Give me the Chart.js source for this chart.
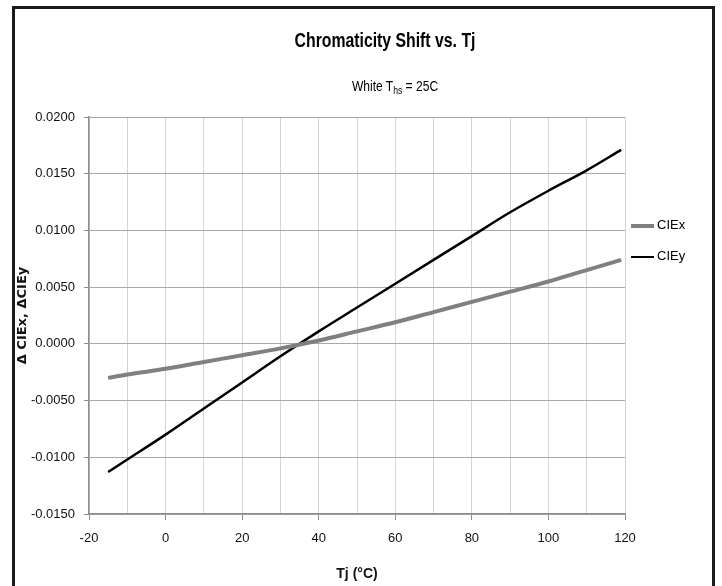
<!DOCTYPE html>
<html>
<head>
<meta charset="utf-8">
<script src="https://cdn.jsdelivr.net/npm/chart.js@4.4.0/dist/chart.umd.min.js"></script>
<style>
  body { margin: 0; background: #fff; }
  #wrap { position: relative; width: 722px; height: 586px; overflow: hidden; }
  #frame { position: absolute; left: 12px; top: 6px; width: 697px; height: 600px; border: 3px solid #1a1a1a; }
  canvas { position: absolute; left: 0; top: 0; }
  .txt { position: absolute; white-space: nowrap; color: #000; font-family: 'Liberation Sans', Arial, sans-serif; }
  #title { left: 385px; top: 29px; transform: translateX(-50%) scaleX(0.79); font-size: 20px; font-weight: bold; }
  #subtitle { left: 395px; top: 78px; transform: translateX(-50%) scaleX(0.86); font-size: 14px; }
  #subtitle sub { font-size: 10px; vertical-align: -3px; }
  .leg { position: absolute; left: 631px; font-size: 13px; }
  .leg span { display: inline-block; width: 23px; vertical-align: middle; margin-right: 3px; }
</style>
</head>
<body>
<div id="wrap">
  <div id="frame"></div>
  <canvas id="chart" width="722" height="586"></canvas>
  <div id="title" class="txt">Chromaticity Shift vs. Tj</div>
  <div id="subtitle" class="txt">White T<sub>hs</sub> = 25C</div>
  <div id="legend"></div>
</div>
<script>
// junction temperature (°C)
const tjValues = [-15, -10, 0, 10, 20, 30, 40, 50, 60, 70, 80, 90, 100, 110, 119];
// chromaticity shift
const cieX = [-0.0030, -0.0027, -0.0022, -0.0016, -0.0010, -0.0004, 0.0003, 0.0011, 0.0019, 0.0028, 0.0037, 0.0046, 0.0055, 0.0065, 0.0074];
const cieY = [-0.0113, -0.0102, -0.0080, -0.0057, -0.0034, -0.0011, 0.0011, 0.0032, 0.0053, 0.0074, 0.0095, 0.0116, 0.0135, 0.0153, 0.0171];
const seriesNames = ['CIEx', 'CIEy'];
const seriesColors = ['#808080', '#000000'];
const seriesWidths = [4, 2.5];

const xTicks = [-20, 0, 20, 40, 60, 80, 100, 120];

document.addEventListener('DOMContentLoaded', function() {
    Chart.defaults.font.family = "'Liberation Sans', Arial, sans-serif";
    Chart.defaults.color = '#111';

    const ctx = document.getElementById('chart');
    const allSeries = [cieX, cieY];

    new Chart(ctx, {
        type: 'scatter',
        data: {
            datasets: allSeries.map((vals, i) => ({
                label: seriesNames[i],
                data: tjValues.map((t, k) => ({ x: t, y: vals[k] })),
                showLine: true,
                borderColor: seriesColors[i],
                borderWidth: seriesWidths[i],
                pointRadius: 0,
                cubicInterpolationMode: 'monotone',
                fill: false
            }))
        },
        options: {
            responsive: false,
            animation: false,
            layout: { padding: { left: 12, right: 97, top: 117, bottom: 0 } },
            plugins: {
                legend: { display: false },
                tooltip: { enabled: false }
            },
            scales: {
                x: {
                    type: 'linear',
                    min: -20,
                    max: 120,
                    ticks: {
                        stepSize: 10,
                        autoSkip: false,
                        maxRotation: 0,
                        padding: 11,
                        font: { size: 13 },
                        callback: v => xTicks.includes(v) ? String(v) : ''
                    },
                    grid: {
                        color: '#d4d4d4',
                        tickLength: 6,
                        tickColor: c => (c.tick && xTicks.includes(c.tick.value)) ? '#8c8c8c' : 'rgba(0,0,0,0)'
                    },
                    border: { color: '#8c8c8c', width: 1.5 },
                    title: {
                        display: true,
                        text: 'Tj (°C)',
                        font: { size: 14, weight: 'bold' },
                        padding: { top: 4, bottom: 3 }
                    },
                    afterFit: s => { s.height = 72; }
                },
                y: {
                    min: -0.015,
                    max: 0.02,
                    ticks: {
                        stepSize: 0.005,
                        padding: 9,
                        font: { size: 13 },
                        callback: v => (Math.abs(v) < 1e-9 ? 0 : v).toFixed(4)
                    },
                    grid: { color: '#a8a8a8', tickLength: 5, tickColor: '#8c8c8c' },
                    border: { color: '#8c8c8c', width: 1.5 },
                    title: {
                        display: true,
                        text: 'Δ CIEx, ΔCIEy',
                        font: { family: "'DejaVu Sans', sans-serif", size: 13, weight: 'bold' },
                        padding: { top: 3, bottom: 4 }
                    },
                    afterFit: s => { s.width = 77; }
                }
            }
        }
    });

    // legend on the right
    const legend = document.getElementById('legend');
    const legendTops = [217, 248];
    seriesNames.forEach((name, i) => {
        const item = document.createElement('div');
        item.className = 'txt leg';
        item.style.top = legendTops[i] + 'px';
        item.innerHTML = `<span style="border-top:${seriesWidths[i] === 4 ? 4 : 2}px solid ${seriesColors[i]}"></span>${name}`;
        legend.appendChild(item);
    });
});
</script>
</body>
</html>
